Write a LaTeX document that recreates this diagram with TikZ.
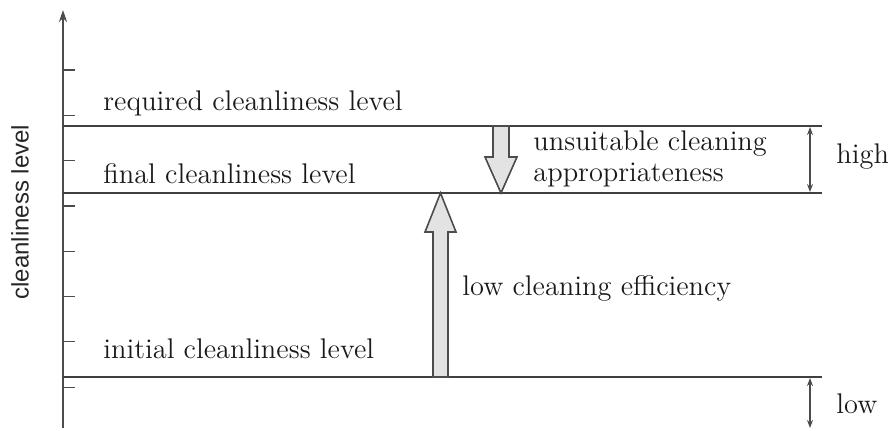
\documentclass[tikz,border=0pt]{standalone}
\usepackage{fontspec}
\newfontfamily\axisfont{Liberation Sans}
\usetikzlibrary{positioning, arrows.meta}

\begin{document}
\begin{tikzpicture}[x=0.5pt, y=-0.5pt,
      lvl/.style={draw=black!75, line width=0.8pt},
      lab/.style={font=\fontsize{14.2}{17}\selectfont, inner sep=0pt, anchor=base west, text=black!90},
      blockarrow/.style={draw=black!70, fill=gray!22, line width=0.8pt, line join=miter},
      dim/.style={draw=black!70, line width=0.6pt, {Stealth[length=4pt,width=3pt]}-{Stealth[length=4pt,width=3pt]}},
      ]
      \useasboundingbox (0,0) rectangle (888,430);

      % Axis with ticks
      \coordinate (ax0) at (63,428);
      \coordinate (ax1) at (63,10);
      \draw[draw=black!70, line width=0.8pt, -{Stealth[length=6pt,width=4pt]}] (ax0) -- (ax1);
      \foreach \t in {0,...,7}{
            \draw[draw=black!70, line width=0.6pt] (63,{70+\t*45.3}) -- (75,{70+\t*45.3});
            }
      \node[font=\axisfont\fontsize{12}{14}\selectfont, rotate=90, text=black!85] (ylab) at (20,212) {cleanliness level};

      % Levels
      \coordinate (req0) at (63,126);  \coordinate (req1) at (822,126);
      \coordinate (fin0) at (63,193);  \coordinate (fin1) at (822,193);
      \coordinate (ini0) at (63,377);  \coordinate (ini1) at (822,377);
      \draw[lvl] (req0) -- (req1);
      \draw[lvl] (fin0) -- (fin1);
      \draw[lvl] (ini0) -- (ini1);

      \node[lab] (reqlab) at (103,110) {required cleanliness level};
      \node[lab] (finlab) at (103,183) {final cleanliness level};
      \node[lab] (inilab) at (103,358) {initial cleanliness level};

      % Block arrows
      \draw[blockarrow] (493,126) -- (509,126) -- (509,157) -- (517,157) -- (501,193)
            -- (485,157) -- (493,157) -- cycle;
      \draw[blockarrow] (433,377) -- (448,377) -- (448,232) -- (456,232) -- (440.5,193)
            -- (425,232) -- (433,232) -- cycle;

      \node[lab] (unsuit) at (533,150) {unsuitable cleaning};
      \node[lab] (approp) at (533,181) {appropriateness};
      \node[lab] (effic) at (462,295) {low cleaning efficiency};

      % Range marks on the right
      \coordinate (hi0) at (810,127);  \coordinate (hi1) at (810,192);
      \coordinate (lo0) at (810,378);  \coordinate (lo1) at (810,428);
      \draw[dim] (hi0) -- (hi1);
      \draw[dim] (lo0) -- (lo1);
      \node[lab] (high) at (836,163) {high};
      \node[lab] (low) at (836,413) {low};
\end{tikzpicture}
\end{document}
